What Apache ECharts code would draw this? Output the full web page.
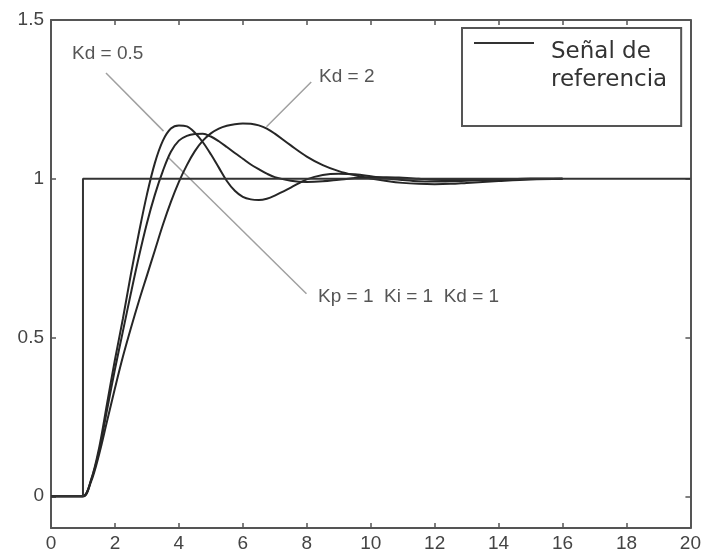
<!DOCTYPE html>
<html>
<head>
<meta charset="utf-8">
<script src="https://cdn.jsdelivr.net/npm/echarts@6/dist/echarts.min.js"></script>
<style>
  html, body { margin: 0; padding: 0; background: #fff; }
  #main { width: 704px; height: 560px; }
</style>
</head>
<body>
<div id="main"></div>
<script>
// tiempo común a las tres respuestas
const tiempo = [0, 0.5, 1, 1.25, 1.5, 1.75, 2, 2.25, 2.5, 2.75, 3, 3.25, 3.5, 3.75, 4, 4.25,
  4.5, 4.75, 5, 5.25, 5.5, 5.75, 6, 6.25, 6.5, 6.75, 7, 7.5, 8, 8.5, 9, 9.5, 10, 10.5,
  11, 11.5, 12, 12.5, 13, 14, 15, 16];

// Kd = 0.5
const respKd05 = [0, 0, 0, 0.05, 0.15, 0.29, 0.43, 0.56, 0.70, 0.83, 0.95, 1.05, 1.12, 1.158,
  1.168, 1.165, 1.145, 1.115, 1.077, 1.035, 0.993, 0.962, 0.943, 0.935, 0.933, 0.937, 0.947,
  0.972, 0.998, 1.012, 1.016, 1.014, 1.008, 1.001, 0.996, 0.992, 0.991, 0.992, 0.994, 0.998,
  1.0, 1.0];
// Kp = 1 Ki = 1 Kd = 1
const respKd1 = [0, 0, 0, 0.05, 0.14, 0.27, 0.40, 0.52, 0.64, 0.755, 0.86, 0.95, 1.025, 1.085,
  1.12, 1.135, 1.141, 1.142, 1.133, 1.118, 1.1, 1.081, 1.063, 1.045, 1.03, 1.016, 1.005,
  0.994, 0.99, 0.992, 0.997, 1.002, 1.005, 1.005, 1.003, 1.0, 0.997, 0.996, 0.996, 0.998,
  1.0, 1.0];
// Kd = 2
const respKd2 = [0, 0, 0, 0.045, 0.13, 0.235, 0.34, 0.44, 0.53, 0.615, 0.695, 0.775, 0.855, 0.927,
  0.99, 1.043, 1.087, 1.12, 1.143, 1.158, 1.167, 1.172, 1.174, 1.173, 1.168, 1.158, 1.142,
  1.105, 1.07, 1.043, 1.024, 1.011, 1.001, 0.993, 0.987, 0.984, 0.983, 0.984, 0.987, 0.993,
  0.998, 1.0];

// escalón de referencia
const refT = [0, 1, 1, 20];
const refY = [0, 0, 1, 1];

// líneas indicadoras de las etiquetas (coordenadas de datos)
const flechaKd05 = [[1.72, 1.333], [3.52, 1.15]];
const flechaKd2 = [[8.14, 1.305], [6.74, 1.164]];
const flechaKd1 = [[7.99, 0.638], [3.68, 1.066]];

const ticksX = [0, 2, 4, 6, 8, 10, 12, 14, 16, 18, 20];
const ticksY = [0, 0.5, 1, 1.5];

const zip = (xs, ys) => xs.map((x, i) => [x, ys[i]]);

const chart = echarts.init(document.getElementById('main'));

const ejeColor = '#555';
const curvaColor = '#262626';
const guiaColor = '#a0a0a0';
const fuente = 'Liberation Sans';

function curva(data) {
  return {
    type: 'line', data: data, showSymbol: false, symbol: 'none', smooth: 0.35,
    silent: true, lineStyle: { color: curvaColor, width: 2 }, z: 3
  };
}
function guia(data) {
  return {
    type: 'line', data: data, showSymbol: false, symbol: 'none', silent: true,
    lineStyle: { color: guiaColor, width: 1.5 }, z: 2
  };
}

const ticks = { show: true, inside: true, length: 5, lineStyle: { color: ejeColor, width: 1.5 } };
const linea = { show: true, onZero: false, lineStyle: { color: ejeColor, width: 2 } };

const option = {
  animation: false,
  backgroundColor: '#fff',
  grid: { left: 51, right: 12, top: 20, bottom: 32 },
  xAxis: [{
    type: 'value', min: 0, max: 20, interval: 2, position: 'bottom',
    axisLine: linea,
    axisTick: ticks,
    axisLabel: { color: '#444', fontFamily: fuente, fontSize: 19, margin: 6,
      customValues: ticksX },
    splitLine: { show: false }
  }, {
    type: 'value', min: 0, max: 20, interval: 2, position: 'top',
    axisLine: linea,
    axisTick: ticks,
    axisLabel: { show: false },
    splitLine: { show: false }
  }],
  yAxis: [{
    type: 'value', min: -0.1, max: 1.5, position: 'left',
    axisLine: linea,
    axisTick: Object.assign({ customValues: ticksY }, ticks),
    axisLabel: { color: '#444', fontFamily: fuente, fontSize: 19, margin: 7,
      customValues: ticksY, formatter: v => String(v) },
    splitLine: { show: false }
  }, {
    type: 'value', min: -0.1, max: 1.5, position: 'right',
    axisLine: linea,
    axisTick: Object.assign({ customValues: ticksY }, ticks),
    axisLabel: { show: false },
    splitLine: { show: false }
  }],
  legend: {
    data: ['Señal de referencia'],
    left: 462, top: 28,
    orient: 'vertical',
    padding: [10, 14, 32, 12],
    borderColor: '#555', borderWidth: 2, backgroundColor: '#fff',
    itemWidth: 60, itemHeight: 56,
    icon: 'path://M0,4H60V6H0Z M0,0H0.01V0.01H0Z M0,55.99H0.01V56H0Z',
    itemStyle: { color: '#333', borderWidth: 0 },
    formatter: () => 'Señal de\nreferencia',
    textStyle: { fontFamily: 'DejaVu Sans', fontSize: 23, lineHeight: 28, color: '#333',
      padding: [0, 0, 0, 12] },
    selectedMode: false
  },
  graphic: [
    { type: 'text', left: 72, top: 44, silent: true,
      style: { text: 'Kd = 0.5', font: '19px "Liberation Sans"', fill: '#555' } },
    { type: 'text', left: 319, top: 67, silent: true,
      style: { text: 'Kd = 2', font: '19px "Liberation Sans"', fill: '#555' } },
    { type: 'text', left: 318, top: 287, silent: true,
      style: { text: 'Kp = 1  Ki = 1  Kd = 1', font: '19px "Liberation Sans"', fill: '#555' } }
  ],
  series: [
    guia(flechaKd05),
    guia(flechaKd2),
    guia(flechaKd1),
    curva(zip(tiempo, respKd2)),
    curva(zip(tiempo, respKd1)),
    curva(zip(tiempo, respKd05)),
    {
      name: 'Señal de referencia', type: 'line', data: zip(refT, refY),
      showSymbol: false, symbol: 'none', silent: true, z: 4,
      itemStyle: { color: '#333' },
      lineStyle: { color: '#333', width: 2 }
    }
  ]
};

chart.setOption(option);
</script>
</body>
</html>
